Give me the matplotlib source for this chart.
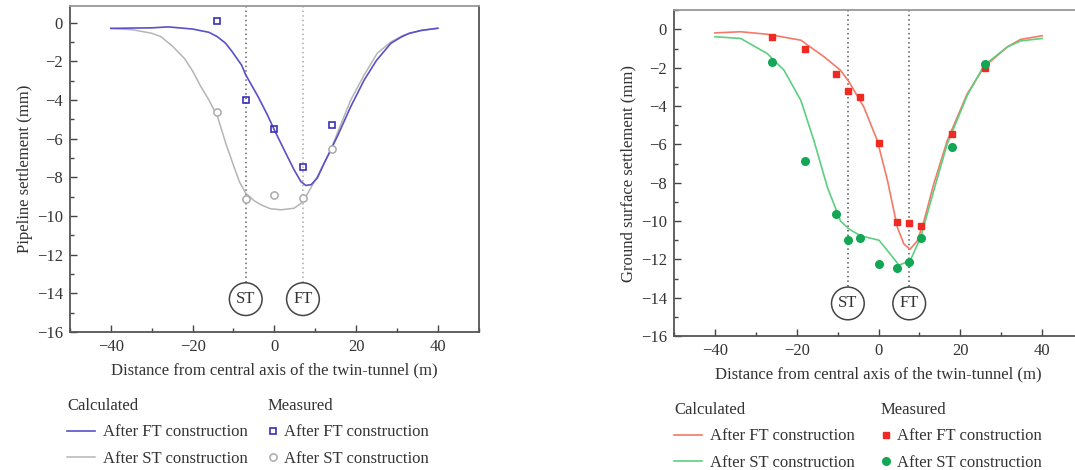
import matplotlib
matplotlib.use('Agg')
import matplotlib.pyplot as plt
from matplotlib.ticker import MultipleLocator

plt.rcParams['font.family'] = ['Liberation Serif', 'DejaVu Serif']
plt.rcParams['font.size'] = 12

# 左图：管线沉降
pipe_calc_ft_x = [-40, -35, -30, -26, -20, -16, -14, -12, -10.5, -8, -7, -4, -1.7, 0, 2.4, 4.8, 6.5, 7.7, 9,
                  10.5, 12.2, 13.8, 15.4, 18.7, 22, 25, 28.5, 31, 33, 36, 40]
pipe_calc_ft_y = [-0.3, -0.28, -0.27, -0.22, -0.33, -0.5, -0.72, -1.05, -1.45, -2.2, -2.7, -3.82, -4.77, -5.55,
                  -6.58, -7.6, -8.22, -8.42, -8.38, -8.04, -7.27, -6.58, -5.89, -4.34, -2.96, -1.95, -1.07,
                  -0.75, -0.55, -0.4, -0.29]
pipe_calc_st_x = [-40, -34.3, -30, -27.8, -25, -22, -20, -18, -16, -13.9, -11.9, -9.9, -8.5, -7, -5, -3.3, -1,
                  1.6, 4.8, 6.5, 7.7, 10.5, 13.8, 16, 18.7, 22, 25.2, 28.5, 31.7, 36, 40]
pipe_calc_st_y = [-0.29, -0.38, -0.55, -0.72, -1.2, -1.85, -2.5, -3.3, -4.0, -4.86, -6.23, -7.44, -8.25, -8.82,
                  -9.2, -9.42, -9.62, -9.68, -9.6, -9.35, -9.0, -7.96, -6.58, -5.4, -4.0, -2.7, -1.58, -1.0,
                  -0.64, -0.4, -0.29]
pipe_meas_x = [-14, -7, 0, 7, 14]
pipe_meas_ft = [0.1, -4.0, -5.5, -7.45, -5.3]
pipe_meas_st = [-4.6, -9.1, -8.9, -9.05, -6.55]
pipe_tunnels = [-7, 7]

# 右图：地表沉降
gs_calc_ft_x = [-40, -33.7, -27.2, -19, -13.3, -9.3, -7.2, -3.6, -0.3, 2.2, 4.6, 6.2, 7.7, 9.5, 11.1, 13.5,
                16.8, 21.7, 25.8, 31.5, 34.7, 40]
gs_calc_ft_y = [-0.18, -0.12, -0.25, -0.56, -1.43, -2.13, -2.74, -4.05, -5.8, -7.9, -10.33, -11.2, -11.47,
                -11.03, -10.0, -8.06, -5.8, -3.35, -1.96, -0.91, -0.52, -0.33]
gs_calc_st_x = [-40, -33.7, -27.2, -23.1, -19, -15.8, -12.5, -9.3, -7.2, -4.4, 0.1, 2.2, 5, 7.7, 10.3, 13.5,
                16.8, 21.7, 25.8, 31.5, 34.7, 40]
gs_calc_st_y = [-0.38, -0.47, -1.26, -2.13, -3.7, -5.8, -8.24, -10.0, -10.42, -10.77, -11.0, -11.55, -12.3,
                -12.08, -10.86, -8.41, -5.97, -3.44, -1.87, -0.91, -0.6, -0.47]
gs_meas_x = [-26, -18, -10.5, -7.5, -4.5, 0, 4.5, 7.5, 10.5, 18, 26]
gs_meas_ft = [-0.42, -1.01, -2.34, -3.21, -3.51, -5.94, -10.05, -10.12, -10.25, -5.48, -2.0]
gs_meas_st = [-1.7, -6.84, -9.65, -11.0, -10.87, -12.25, -12.44, -12.13, -10.91, -6.11, -1.78]
gs_tunnels = [-7.5, 7.5]

tunnel_labels = ['ST', 'FT']
xlabel = 'Distance from central axis of the twin-tunnel (m)'

fig = plt.figure(figsize=(10.75, 4.7), dpi=100)
ax1 = fig.add_axes([0.0651, 0.2936, 0.3802, 0.6936])
ax2 = fig.add_axes([0.627, 0.2851, 0.3805, 0.693])


def style_axes(ax, ytop, ylabel):
    ax.set_xlim(-50, 50)
    ax.set_ylim(-16, ytop)
    ax.xaxis.set_major_locator(MultipleLocator(20))
    ax.xaxis.set_minor_locator(MultipleLocator(10))
    ax.yaxis.set_major_locator(MultipleLocator(2))
    ax.yaxis.set_minor_locator(MultipleLocator(1))
    ax.set_xticks([-40, -20, 0, 20, 40])
    ax.tick_params(which='both', direction='in', color='#444', width=1, labelcolor='#333', labelsize=12,
                   top=False, right=False)
    ax.tick_params(which='major', length=5, pad=5)
    ax.tick_params(which='minor', length=3)
    for s in ['left', 'bottom', 'right']:
        ax.spines[s].set_color('#555')
        ax.spines[s].set_linewidth(1.3)
    ax.spines['top'].set_color('#999')
    ax.spines['top'].set_linewidth(1.3)
    ax.set_xlabel(xlabel, color='#333', fontsize=12, labelpad=5)
    ax.set_ylabel(ylabel, color='#333', fontsize=12, labelpad=3)


def draw_tunnels(ax, xs, ytop, line_colors):
    for x, lab, c in zip(xs, tunnel_labels, line_colors):
        ax.plot([x, x], [ytop, -13.55], ls=(0, (1, 2)), color=c, lw=1.1, zorder=1)
        ax.text(x, -14.3, lab, ha='center', va='center', fontsize=12, color='#333',
                bbox=dict(boxstyle='circle,pad=0.4', fc='white', ec='#444', lw=1.1))


def add_legends(ax, handles_calc, handles_meas, x_calc, x_meas, y_top):
    lab = ['After FT construction', 'After ST construction']
    leg1 = ax.legend(handles_calc, lab, title='Calculated', alignment='left', frameon=False,
                     loc='upper left', bbox_to_anchor=(x_calc, y_top), bbox_transform=fig.transFigure,
                     borderpad=0, borderaxespad=0, handlelength=1.68, handletextpad=0.48,
                     labelspacing=0.63, fontsize=12, title_fontsize=12)
    ax.add_artist(leg1)
    leg2 = ax.legend(handles_meas, lab, title='Measured', alignment='left', frameon=False,
                     loc='upper left', bbox_to_anchor=(x_meas, y_top), bbox_transform=fig.transFigure,
                     borderpad=0, borderaxespad=0, handlelength=0.55, handletextpad=0.4,
                     labelspacing=0.63, fontsize=12, title_fontsize=12)
    for leg in (leg1, leg2):
        for t in leg.get_texts():
            t.set_color('#333')
        leg.get_title().set_color('#333')


# 左图
style_axes(ax1, 0.86, 'Pipeline settlement (mm)')
draw_tunnels(ax1, pipe_tunnels, 0.86, ['#666', '#aaa'])
l1, = ax1.plot(pipe_calc_ft_x, pipe_calc_ft_y, color='#5a50c8', lw=1.2, zorder=3)
l2, = ax1.plot(pipe_calc_st_x, pipe_calc_st_y, color='#b5b5b5', lw=1.1, zorder=2)
m1, = ax1.plot(pipe_meas_x, pipe_meas_ft, 's', mfc='none', mec='#3a30b8', mew=1.2, ms=4.2, ls='none', zorder=4)
m2, = ax1.plot(pipe_meas_x, pipe_meas_st, 'o', mfc='white', mec='#aaaaaa', mew=1.1, ms=5.2, ls='none', zorder=4)
add_legends(ax1, [l1, l2], [m1, m2], 67 / 1075, 268 / 1075, 1 - 398 / 470)

# 右图
style_axes(ax2, 1.0, 'Ground surface settlement (mm)')
draw_tunnels(ax2, gs_tunnels, 1.0, ['#555', '#555'])
r1, = ax2.plot(gs_calc_ft_x, gs_calc_ft_y, color='#f47a68', lw=1.2, zorder=2)
r2, = ax2.plot(gs_calc_st_x, gs_calc_st_y, color='#5ccf80', lw=1.2, zorder=3)
n1, = ax2.plot(gs_meas_x, gs_meas_ft, 's', color='#ee2a22', ms=5, ls='none', zorder=4)
n2, = ax2.plot(gs_meas_x, gs_meas_st, 'o', color='#12a655', ms=5.5, ls='none', zorder=5)
add_legends(ax2, [r1, r2], [n1, n2], 674 / 1075, 881 / 1075, 1 - 402 / 470)

fig.savefig('out.png', dpi=100)
